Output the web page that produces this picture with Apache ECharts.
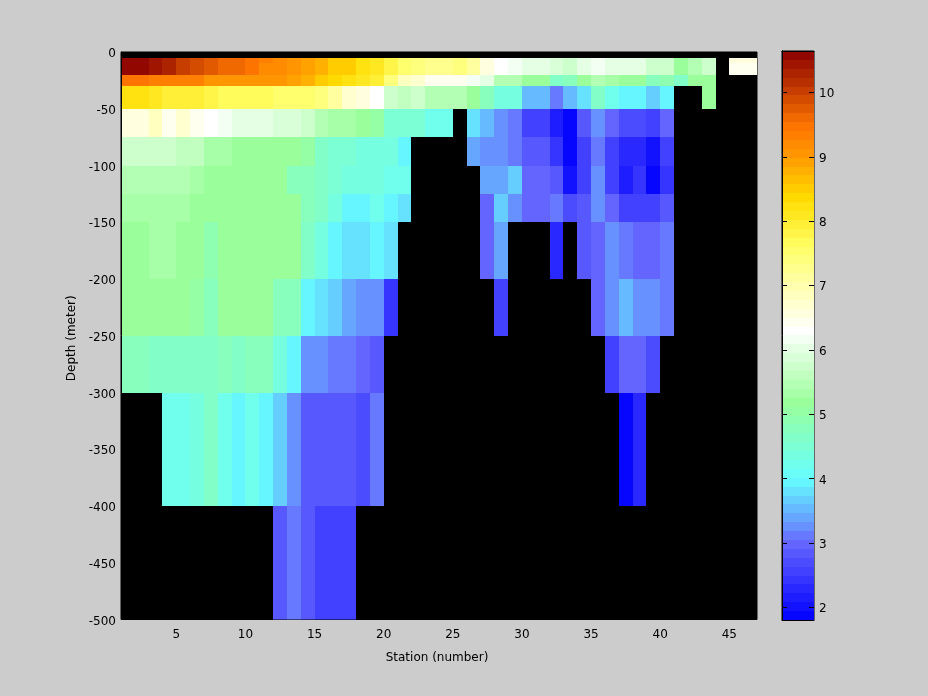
<!DOCTYPE html>
<html>
<head>
<meta charset="utf-8">
<style>html,body{margin:0;padding:0;background:#cccccc}#chart{width:928px;height:696px}</style>
<script src="https://cdn.jsdelivr.net/npm/echarts@6/dist/echarts.min.js"></script>
</head>
<body>
<div id="chart"></div>
<script>
var N = null;
var stationEdges = { min: 1, max: 47 };
var stationTicks = [5, 10, 15, 20, 25, 30, 35, 40, 45];
var colorTicks = [2, 3, 4, 5, 6, 7, 8, 9, 10];
var colorRange = [1.8, 10.64];
var colorLevels = 64;
var depthEdges = [5, 10, 20, 30, 50, 75, 100, 125, 150, 200, 250, 300, 400, 500];

var r5_10 = [10.64,10.64,10.4,10.25,10.0,9.85,9.7,9.55,9.55,9.4, 9.3,9.25,9.0,8.9,8.75,8.5,8.5,8.25,8.1,7.85, 7.6,7.4,7.25,7.25,7.4,7.1,6.6,6.35,6.2,5.95, 5.95,5.85,5.75,6.0,6.2,5.95,5.95,5.95,5.75,5.8, 5.15,5.5,5.75,N,6.5,6.5];
var r10_20 = [10.64,10.64,10.4,10.25,10.0,9.85,9.7,9.55,9.55,9.4, 9.2,9.15,9.0,8.9,8.75,8.5,8.5,8.25,8.1,7.85, 7.6,7.4,7.25,7.25,7.4,7.1,6.6,6.35,6.2,5.95, 5.95,5.85,5.75,6.0,6.2,5.95,5.95,5.95,5.75,5.7, 5.15,5.5,5.75,N,6.38,6.38];
var r20_30 = [9.5,9.5,9.3,9.3,9.3,9.3,9.0,9.0,9.0,9.1, 9.0,9.0,8.9,8.75,8.5,8.4,8.25,8.12,7.9,7.4, 6.85,6.7,6.45,6.45,6.45,6.2,5.95,5.5,5.45,5.15, 5.15,4.6,4.75,5.15,5.5,5.3,5.25,5.15,4.75,4.95, 4.65,5.25,5.25,N,N,N];
var r30_50 = [8.25,8.25,8.05,8,8,7.95,7.85,7.7,7.7,7.7, 7.7,7.55,7.55,7.5,7.4,7.1,6.75,6.5,6.25,5.75, 5.6,5.75,5.5,5.5,5.5,5.15,4.75,4.4,4.4,3.5, 3.5,3.15,3.5,3.75,4.6,4.2,4,4,3.6,4, N,N,5.25,N,N,N];
var r50_75 = [6.6,6.6,6.85,6.45,6.65,6.45,6.35,6.2,6.05,6.05, 6.05,5.9,5.9,5.75,5.5,5.3,5.3,5.15,5.0,4.45, 4.45,4.45,4.2,4.2,N,3.8,3.5,3.2,3.1,2.5, 2.5,2.2,1.85,2.8,3.3,3.0,2.7,2.7,2.5,3.0, N,N,N,N,N,N];
var r75_100 = [5.75,5.75,5.75,5.75,5.6,5.6,5.3,5.3,5.25,5.25, 5.25,5.15,5.15,5.0,4.65,4.45,4.45,4.3,4.3,4.3, 4.0,N,N,N,N,3.45,3.25,3.25,3.1,2.9, 2.9,2.4,1.85,2.5,3.1,2.5,2.3,2.3,2.05,2.5, N,N,N,N,N,N];
var r100_125 = [5.5,5.5,5.5,5.5,5.5,5.3,5.25,5.25,5.25,5.25, 5.15,5.15,4.8,4.8,4.65,4.45,4.3,4.3,4.3,4.15, 4.15,N,N,N,N,N,3.45,3.45,3.6,3.0, 3.0,2.8,2.05,2.6,3.25,2.6,2.2,2.4,1.9,2.45, N,N,N,N,N,N];
var r125_150 = [5.35,5.35,5.35,5.35,5.35,5.25,5.15,5.25,5.25,5.25, 5.25,5.15,5.15,4.8,4.65,4.35,4,4,4.15,3.98, 3.8,N,N,N,N,N,3.0,3.6,3.3,3.0, 3.0,3.15,2.7,2.8,3.25,2.95,2.6,2.6,2.55,2.8, N,N,N,N,N,N];
var r150_200 = [5.25,5.25,5.35,5.35,5.25,5.15,4.9,5.25,5.25,5.25, 5.25,5.15,5.15,4.65,4.3,4,3.8,3.8,4,3.8, N,N,N,N,N,N,3.0,3.45,N,N, N,2.3,N,2.8,3.0,3.3,3.15,3,3,3.15, N,N,N,N,N,N];
var r200_250 = [5.25,5.25,5.25,5.15,5.15,5.0,4.8,5.15,5.15,5.15, 5.15,4.8,4.8,3.9,3.8,3.6,3.4,3.25,3.25,2.45, N,N,N,N,N,N,N,2.55,N,N, N,N,N,N,3.0,3.3,3.5,3.3,3.3,3.15, N,N,N,N,N,N];
var r250_300 = [4.8,4.8,4.7,4.7,4.7,4.7,4.7,4.8,4.7,4.8, 4.8,4.3,4.0,3.25,3.25,3.15,3.15,3.0,2.9,N, N,N,N,N,N,N,N,N,N,N, N,N,N,N,N,2.5,3,3,2.7,N, N,N,N,N,N,N];
var r300_400 = [N,N,N,4.15,4.15,4.3,4.6,4.2,4.0,4.25, 4.0,3.6,3.25,2.85,2.85,2.85,2.85,2.7,3.15,N, N,N,N,N,N,N,N,N,N,N, N,N,N,N,N,N,1.9,2.3,N,N, N,N,N,N,N,N];
var r400_500 = [N,N,N,N,N,N,N,N,N,N, N,2.85,3.1,2.85,2.55,2.55,2.55,N,N,N, N,N,N,N,N,N,N,N,N,N, N,N,N,N,N,N,N,N,N,N, N,N,N,N,N,N];
var rows = [r5_10, r10_20, r20_30, r30_50, r50_75, r75_100, r100_125, r125_150, r150_200, r200_250, r250_300, r300_400, r400_500];

var colorStops = [
  [1.8,'#0000ff'],[3.0,'#6666ff'],[3.3,'#6699ff'],[4.0,'#66ffff'],[5.17,'#99ff99'],
  [6.3,'#ffffff'],[7.6,'#ffff66'],[8.33,'#ffdd00'],[9.0,'#ff9900'],[9.45,'#ff7700'],
  [10.0,'#c84000'],[10.64,'#8b0000']
];
function hex(c){return [parseInt(c.substr(1,2),16),parseInt(c.substr(3,2),16),parseInt(c.substr(5,2),16)];}
function ramp(v){
  for(var i=1;i<colorStops.length;i++){
    if(v<=colorStops[i][0]){
      var a=colorStops[i-1],b=colorStops[i],t=(v-a[0])/(b[0]-a[0]),p=hex(a[1]),q=hex(b[1]);
      return 'rgb('+Math.round(p[0]+(q[0]-p[0])*t)+','+Math.round(p[1]+(q[1]-p[1])*t)+','+Math.round(p[2]+(q[2]-p[2])*t)+')';
    }
  }
  return colorStops[colorStops.length-1][1];
}
var step=(colorRange[1]-colorRange[0])/colorLevels;
function levelColor(v){
  var l=Math.min(colorLevels-1,Math.max(0,Math.floor((v-colorRange[0])/step)));
  return ramp(colorRange[0]+(l+0.5)*step);
}
function pixelRect(a,b,fill){
  var x0=Math.round(a[0]),y0=Math.round(a[1]),x1=Math.round(b[0]),y1=Math.round(b[1]);
  return {type:'rect',shape:{x:x0,y:y0,width:x1-x0,height:y1-y0},style:{fill:fill,stroke:null,lineWidth:0}};
}

var cells=[];
rows.forEach(function(row,r){
  row.forEach(function(v,c){ if(v!==N) cells.push([c+1,c+2,depthEdges[r],depthEdges[r+1],v]); });
});
var bands=[];
for(var i=0;i<colorLevels;i++) bands.push([colorRange[0]+i*step,colorRange[0]+(i+1)*step]);

var FONT='"DejaVu Sans"', FS=12, INK='#000000';
var chart=echarts.init(document.getElementById('chart'),null,{renderer:'canvas'});
chart.setOption({
  animation:false,
  backgroundColor:'#cccccc',
  textStyle:{fontFamily:FONT,fontSize:FS,color:INK},
  grid:[
    {left:121,top:52,width:636,height:567.5,show:true,backgroundColor:'#000000',borderColor:'#000000',borderWidth:1,containLabel:false},
    {left:782,top:51,width:32,height:569,show:true,backgroundColor:'transparent',borderColor:'#000000',borderWidth:1,containLabel:false}
  ],
  xAxis:[
    {type:'value',gridIndex:0,min:stationEdges.min,max:stationEdges.max,name:'Station (number)',nameLocation:'middle',nameGap:32,
     nameTextStyle:{fontFamily:FONT,fontSize:FS,color:INK,padding:[0,4,0,0]},
     axisLine:{show:false},splitLine:{show:false},axisTick:{show:false},
     axisLabel:{customValues:stationTicks,color:INK,fontFamily:FONT,fontSize:FS,margin:9}},
    {type:'value',gridIndex:1,min:0,max:1,z:10,position:'top',axisLine:{show:true,lineStyle:{color:INK}},splitLine:{show:false},axisTick:{show:false},axisLabel:{show:false}},
    {type:'value',gridIndex:1,min:0,max:1,z:10,position:'bottom',axisLine:{show:true,lineStyle:{color:INK}},splitLine:{show:false},axisTick:{show:false},axisLabel:{show:false}}
  ],
  yAxis:[
    {type:'value',gridIndex:0,min:-500,max:0,interval:50,z:10,name:'Depth (meter)',nameLocation:'middle',nameGap:38,
     nameTextStyle:{fontFamily:FONT,fontSize:FS,color:INK,padding:[0,5,0,0]},
     axisLine:{show:true,lineStyle:{color:INK}},splitLine:{show:false},axisTick:{show:false},
     axisLabel:{color:INK,fontFamily:FONT,fontSize:FS,margin:5,verticalAlign:'top',lineHeight:4}},
    {type:'value',gridIndex:1,position:'right',z:10,min:colorRange[0],max:colorRange[1],
     axisLine:{show:true,lineStyle:{color:INK}},splitLine:{show:false},axisTick:{show:false},
     axisLabel:{customValues:colorTicks,color:INK,fontFamily:FONT,fontSize:FS,margin:5,verticalAlign:'top',lineHeight:4}},
    {type:'value',gridIndex:1,position:'left',z:10,min:colorRange[0],max:colorRange[1],
     axisLine:{show:true,lineStyle:{color:INK}},splitLine:{show:false},axisTick:{show:false},axisLabel:{show:false}}
  ],
  series:[
    {type:'custom',xAxisIndex:0,yAxisIndex:0,clip:true,data:cells,
     encode:{x:[0,1],y:[2,3]},
     renderItem:function(params,api){
       var a=api.coord([api.value(0),-api.value(2)]),b=api.coord([api.value(1),-api.value(3)]);
       return pixelRect(a,b,levelColor(api.value(4)));
     }},
    {type:'custom',xAxisIndex:1,yAxisIndex:1,clip:true,data:bands,z:1,
     encode:{y:[0,1]},
     renderItem:function(params,api){
       var a=api.coord([0,api.value(1)]),b=api.coord([1,api.value(0)]);
       return pixelRect(a,b,levelColor((api.value(0)+api.value(1))/2));
     }},
    {type:'custom',xAxisIndex:1,yAxisIndex:1,clip:true,data:colorTicks.map(function(t){return [t];}),z:5,
     encode:{y:0},silent:true,
     renderItem:function(params,api){
       var l=api.coord([0,api.value(0)]),r=api.coord([1,api.value(0)]),y=Math.round(l[1])+0.5;
       var ink={stroke:INK,lineWidth:1,fill:null};
       return {type:'group',children:[
         {type:'line',shape:{x1:l[0],y1:y,x2:l[0]+5,y2:y},style:ink},
         {type:'line',shape:{x1:r[0]-5,y1:y,x2:r[0],y2:y},style:ink}
       ]};
     }}
  ]
});
</script>
</body>
</html>
